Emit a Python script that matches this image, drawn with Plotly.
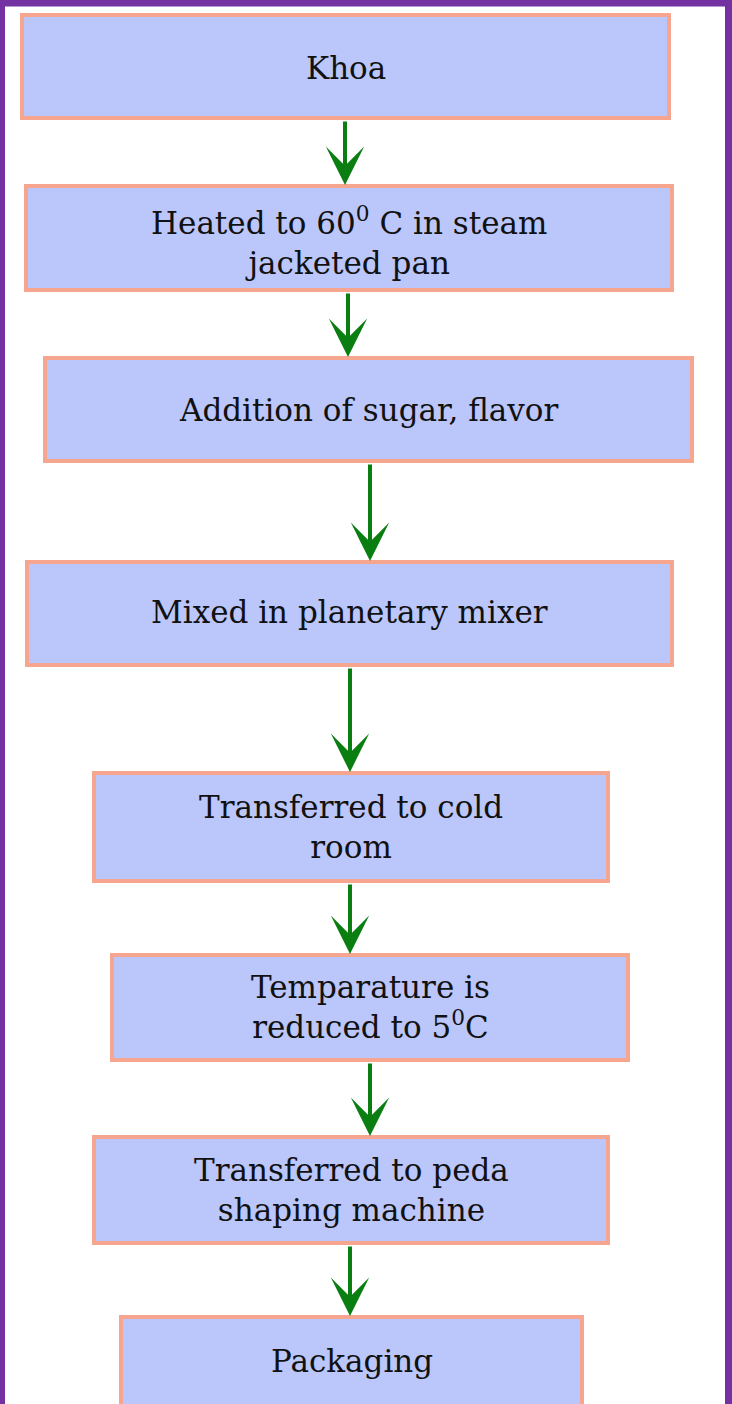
import plotly.graph_objects as go

# Flowchart steps (text) and their box extents (pixels, y measured from top)
steps = [
    "Khoa",
    "Heated to 60<sup>0</sup> C in steam<br>jacketed pan",
    "Addition of sugar, flavor",
    "Mixed in planetary mixer",
    "Transferred to cold<br>room",
    "Temparature is<br>reduced to 5<sup>0</sup>C",
    "Transferred to peda<br>shaping machine",
    "Packaging",
]
box_x0 = [22, 26, 45, 27, 94, 112, 94, 121]
box_x1 = [669, 672, 692, 672, 608, 628, 608, 582]
box_y0 = [15, 186, 358, 562, 773, 955, 1137, 1317]
box_y1 = [118, 290, 461, 665, 881, 1060, 1243, 1412]
text_y = [68, 241, 410, 612, 827, 1007, 1190, 1361]
arrow_x = [345, 348, 370, 350, 350, 370, 350]

W, H = 732, 1404
FILL = "#BBC6FB"
EDGE = "#F6A68E"
GREEN = "#0B7E12"
PURPLE = "#7331A1"

fig = go.Figure()
fig.add_trace(go.Scatter(x=[0, W], y=[0, H], mode="markers",
                         marker=dict(opacity=0), hoverinfo="skip", showlegend=False))

shapes = []
# outer purple frame (top, left, right)
shapes.append(dict(type="line", xref="x", yref="y", x0=0, x1=W, y0=3, y1=3,
                   line=dict(color=PURPLE, width=7)))
shapes.append(dict(type="line", xref="x", yref="y", x0=2.5, x1=2.5, y0=0, y1=H,
                   line=dict(color=PURPLE, width=5)))
shapes.append(dict(type="line", xref="x", yref="y", x0=W - 3.5, x1=W - 3.5, y0=0, y1=H,
                   line=dict(color=PURPLE, width=7)))

for i in range(len(steps)):
    shapes.append(dict(type="rect", xref="x", yref="y",
                       x0=box_x0[i], x1=box_x1[i], y0=box_y0[i], y1=box_y1[i],
                       fillcolor=FILL, line=dict(color=EDGE, width=4), layer="above"))

annotations = []
for i, s in enumerate(steps):
    annotations.append(dict(x=(box_x0[i] + box_x1[i]) / 2, y=text_y[i], xref="x", yref="y",
                            text=s, showarrow=False,
                            font=dict(family="DejaVu Serif", size=31, color="#111111"),
                            align="center", xanchor="center", yanchor="middle"))

for i, ax in enumerate(arrow_x):
    annotations.append(dict(x=ax, y=box_y0[i + 1] - 1, xref="x", yref="y",
                            ax=ax, ay=box_y1[i] + 2, axref="x", ayref="y",
                            text="", showarrow=True, arrowhead=3, arrowsize=1.6,
                            arrowwidth=4, arrowcolor=GREEN, standoff=0))

fig.update_layout(
    width=W, height=H,
    margin=dict(l=0, r=0, t=0, b=0),
    paper_bgcolor="white", plot_bgcolor="white",
    xaxis=dict(range=[0, W], visible=False, fixedrange=True),
    yaxis=dict(range=[H, 0], visible=False, fixedrange=True),
    shapes=shapes, annotations=annotations, showlegend=False,
)

fig.write_html("out.html", config={"displayModeBar": False},
               post_script="document.body.style.margin='0px';document.body.style.overflow='hidden';")
